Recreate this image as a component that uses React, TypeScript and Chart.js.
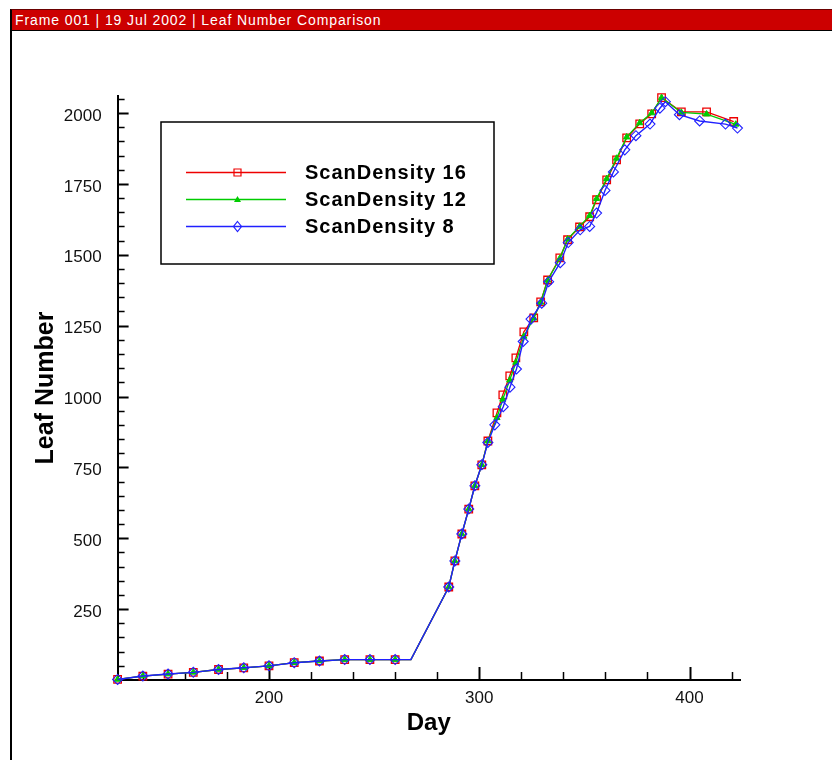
import { useEffect, useRef } from "react";
import { Chart, registerables } from "chart.js";

Chart.register(...registerables);

const FRAME_TITLE = "Frame 001 | 19 Jul 2002 | Leaf Number Comparison";
const X_TITLE = "Day";
const Y_TITLE = "Leaf Number";
const SERIES_NAMES = ["ScanDensity 16", "ScanDensity 12", "ScanDensity 8"];

const X_MIN = 128;
const X_MAX = 424;
const Y_MIN = 0;
const Y_MAX = 2060;
const X_TICKS = [200, 300, 400];
const Y_TICKS = [250, 500, 750, 1000, 1250, 1500, 1750, 2000];
const X_MINOR_STEP = 20;
const Y_MINOR_STEP = 50;

// day without a symbol (line vertex only)
const NO_SYMBOL_DAY = 267.5;

const DAYS_16 = [
  128, 140, 152, 164, 176, 188, 200, 212, 224, 236, 248, 260, 267.5,
  285.5, 288.4, 291.7, 295, 297.9, 301.2, 304.1, 308.4, 311.2, 314.5, 317.4,
  321.2, 325.9, 329.2, 332.5, 338.3, 342, 347.7, 352.5, 355.8, 360.6, 365.3,
  370.1, 376.3, 382, 386.7, 396.1, 408.1, 421,
];
const LEAVES_16 = [
  2, 14, 21, 27, 37, 43, 50, 61, 67, 72, 72, 72, 72,
  328, 420, 515, 603, 685, 759, 843, 942, 1006, 1073, 1136,
  1228, 1277, 1334, 1411, 1489, 1553, 1598, 1634, 1694, 1764, 1835,
  1912, 1962, 1997, 2054, 2004, 2004, 1970,
];

const DAYS_12 = [
  128, 140, 152, 164, 176, 188, 200, 212, 224, 236, 248, 260, 267.5,
  285.5, 288.4, 291.7, 295, 297.9, 301.2, 304.1, 308.4, 311.2, 314.5, 317.4,
  321.2, 325.9, 329.2, 332.5, 338.3, 342, 347.7, 352.5, 355.8, 360.6, 365.3,
  370.1, 376.3, 382, 386.7, 396.1, 408.1, 422,
];
const LEAVES_12 = [
  2, 14, 21, 27, 37, 43, 50, 61, 67, 72, 72, 72, 72,
  328, 420, 515, 603, 685, 759, 843, 925, 990, 1058, 1120,
  1212, 1276, 1332, 1410, 1487, 1555, 1600, 1638, 1698, 1768, 1840,
  1915, 1965, 2000, 2054, 2002, 1996, 1960,
];

const DAYS_8 = [
  128, 140, 152, 164, 176, 188, 200, 212, 224, 236, 248, 260, 267.5,
  285.5, 288.4, 291.7, 295, 297.9, 301.2, 304.1, 307.4, 311.4, 314.6, 317.7,
  320.9, 324.6, 329.7, 333, 338.5, 342.3, 348, 352.5, 355.8, 359.8, 363.8,
  369.2, 374.5, 381.2, 385.9, 388.5, 395.2, 404.8, 417.1, 422.8,
];
const LEAVES_8 = [
  2, 14, 21, 27, 37, 43, 50, 61, 67, 72, 72, 72, 72,
  328, 420, 515, 603, 685, 759, 838, 900, 964, 1033, 1097,
  1194, 1273, 1329, 1405, 1472, 1543, 1588, 1600, 1647, 1727, 1792,
  1870, 1920, 1961, 2017, 2040, 1994, 1972, 1961, 1947,
];

const COLORS = ["#ee0000", "#00cc00", "#2020ff"];
const FONT = '"Liberation Sans", Arial, sans-serif';

function toPoints(days: number[], vals: number[]) {
  return days.map((d, i) => ({ x: d, y: vals[i] }));
}

function drawMarker(ctx: CanvasRenderingContext2D, kind: number, x: number, y: number) {
  ctx.save();
  ctx.lineWidth = 1.2;
  ctx.strokeStyle = COLORS[kind];
  ctx.fillStyle = COLORS[kind];
  ctx.beginPath();
  if (kind === 0) {
    ctx.rect(x - 3.5, y - 3.5, 7, 7);
    ctx.stroke();
  } else if (kind === 1) {
    ctx.moveTo(x, y - 3.5);
    ctx.lineTo(x + 3.5, y + 2.5);
    ctx.lineTo(x - 3.5, y + 2.5);
    ctx.closePath();
    ctx.fill();
  } else {
    ctx.moveTo(x, y - 5);
    ctx.lineTo(x + 4, y);
    ctx.lineTo(x, y + 5);
    ctx.lineTo(x - 4, y);
    ctx.closePath();
    ctx.stroke();
  }
  ctx.restore();
}

const minorTicksPlugin = {
  id: "minorTicks",
  beforeDatasetsDraw(chart: any) {
    const ctx: CanvasRenderingContext2D = chart.ctx;
    const xs = chart.scales.x;
    const ys = chart.scales.y;
    const { left, bottom } = chart.chartArea;
    ctx.save();
    ctx.strokeStyle = "#000";
    for (let v = Math.ceil(X_MIN / X_MINOR_STEP) * X_MINOR_STEP; v <= X_MAX; v += X_MINOR_STEP) {
      const major = X_TICKS.includes(v);
      const px = Math.round(xs.getPixelForValue(v)) + 0.5;
      ctx.lineWidth = major ? 2 : 1.5;
      ctx.beginPath();
      ctx.moveTo(px, bottom);
      ctx.lineTo(px, bottom - (major ? 13 : 8));
      ctx.stroke();
    }
    for (let v = Y_MINOR_STEP; v <= Y_MAX; v += Y_MINOR_STEP) {
      const major = Y_TICKS.includes(v);
      const py = Math.round(ys.getPixelForValue(v)) + 0.5;
      ctx.lineWidth = major ? 2 : 1.5;
      ctx.beginPath();
      ctx.moveTo(left, py);
      ctx.lineTo(left + (major ? 11 : 7), py);
      ctx.stroke();
    }
    ctx.restore();
  },
};

const boxLegendPlugin = {
  id: "boxLegend",
  afterDraw(chart: any) {
    const ctx: CanvasRenderingContext2D = chart.ctx;
    ctx.save();
    ctx.strokeStyle = "#000";
    ctx.lineWidth = 1.5;
    ctx.strokeRect(161, 122, 333, 142);
    const rows = [172.5, 199.5, 226.5];
    ctx.font = `bold 20px ${FONT}`;
    (ctx as any).letterSpacing = "1px";
    ctx.textBaseline = "middle";
    ctx.textAlign = "left";
    SERIES_NAMES.forEach((name, i) => {
      const y = rows[i];
      ctx.strokeStyle = COLORS[i];
      ctx.lineWidth = 1.4;
      ctx.beginPath();
      ctx.moveTo(186, y);
      ctx.lineTo(286, y);
      ctx.stroke();
      drawMarker(ctx, i, 237.5, y);
      ctx.fillStyle = "#000";
      ctx.fillText(name, 305, y + 1);
    });
    ctx.restore();
  },
};

export default function App() {
  const ref = useRef<HTMLCanvasElement>(null);

  useEffect(() => {
    const canvas = ref.current;
    if (!canvas) return;
    const radius = (r: number) => (c: any) =>
      c.raw && c.raw.x === NO_SYMBOL_DAY ? 0 : r;
    const chart = new Chart(canvas, {
      type: "line",
      data: {
        datasets: [
          {
            label: SERIES_NAMES[0],
            data: toPoints(DAYS_16, LEAVES_16),
            borderColor: COLORS[0],
            borderWidth: 1.3,
            pointStyle: "rect",
            pointRadius: radius(5.3),
            pointBorderColor: COLORS[0],
            pointBackgroundColor: "rgba(0,0,0,0)",
            pointBorderWidth: 1.3,
            tension: 0,
            clip: false,
            order: 3,
          },
          {
            label: SERIES_NAMES[1],
            data: toPoints(DAYS_12, LEAVES_12),
            borderColor: COLORS[1],
            borderWidth: 1.3,
            pointStyle: "triangle",
            pointRadius: radius(3.6),
            pointBorderColor: COLORS[1],
            pointBackgroundColor: COLORS[1],
            pointBorderWidth: 1,
            tension: 0,
            clip: false,
            order: 2,
          },
          {
            label: SERIES_NAMES[2],
            data: toPoints(DAYS_8, LEAVES_8),
            borderColor: COLORS[2],
            borderWidth: 1.4,
            pointStyle: "rectRot",
            pointRadius: radius(5),
            pointBorderColor: COLORS[2],
            pointBackgroundColor: "rgba(0,0,0,0)",
            pointBorderWidth: 1.1,
            tension: 0,
            clip: false,
            order: 1,
          },
        ],
      },
      options: {
        animation: false,
        responsive: false,
        maintainAspectRatio: false,
        devicePixelRatio: 1,
        layout: { padding: { left: 0, top: 96, right: 92, bottom: 0 } },
        plugins: {
          legend: { display: false },
          tooltip: { enabled: false },
          title: { display: false },
        },
        scales: {
          x: {
            type: "linear",
            min: X_MIN,
            max: X_MAX,
            grid: { display: false, drawTicks: false },
            border: { display: true, color: "#000", width: 2 },
            afterBuildTicks: (s: any) => {
              s.ticks = X_TICKS.map((v) => ({ value: v }));
            },
            afterFit: (s: any) => {
              s.height = 80;
            },
            ticks: {
              font: { family: FONT, size: 17 },
              color: "#111",
              padding: 8,
              maxRotation: 0,
              autoSkip: false,
              callback: (v: any) => String(v),
            },
            title: {
              display: true,
              text: X_TITLE,
              color: "#000",
              font: { family: FONT, size: 24, weight: "bold" },
              padding: { top: 0, bottom: 22 },
            },
          },
          y: {
            type: "linear",
            min: Y_MIN,
            max: Y_MAX,
            grid: { display: false, drawTicks: false },
            border: { display: true, color: "#000", width: 2 },
            afterBuildTicks: (s: any) => {
              s.ticks = Y_TICKS.map((v) => ({ value: v }));
            },
            afterFit: (s: any) => {
              s.width = 117.6;
            },
            ticks: {
              font: { family: FONT, size: 17 },
              color: "#111",
              padding: 16,
              labelOffset: 3,
              autoSkip: false,
              callback: (v: any) => String(v),
            },
            title: {
              display: true,
              text: Y_TITLE,
              color: "#000",
              font: { family: FONT, size: 25, weight: "bold" },
              padding: { top: 31, bottom: 0 },
            },
          },
        },
      },
      plugins: [minorTicksPlugin, boxLegendPlugin],
    } as any);
    return () => chart.destroy();
  }, []);

  return (
    <div
      style={{
        position: "fixed",
        left: 0,
        top: 0,
        width: 832,
        height: 760,
        overflow: "hidden",
        background: "#fff",
      }}
    >
      <div
        style={{
          position: "absolute",
          left: 10,
          top: 9,
          width: 830,
          height: 760,
          borderLeft: "2px solid #000",
          borderTop: "1px solid #6a0000",
          boxSizing: "border-box",
        }}
      >
        <div
          style={{
            height: 20,
            background: "#cc0000",
            color: "#fff",
            fontFamily: FONT,
            fontSize: 14,
            letterSpacing: "0.9px",
            lineHeight: "20px",
            paddingLeft: 3,
            borderBottom: "1px solid #000",
            whiteSpace: "nowrap",
          }}
        >
          {FRAME_TITLE}
        </div>
      </div>
      <canvas
        ref={ref}
        width={832}
        height={760}
        style={{ position: "absolute", left: 0, top: 0, pointerEvents: "none" }}
      />
    </div>
  );
}
